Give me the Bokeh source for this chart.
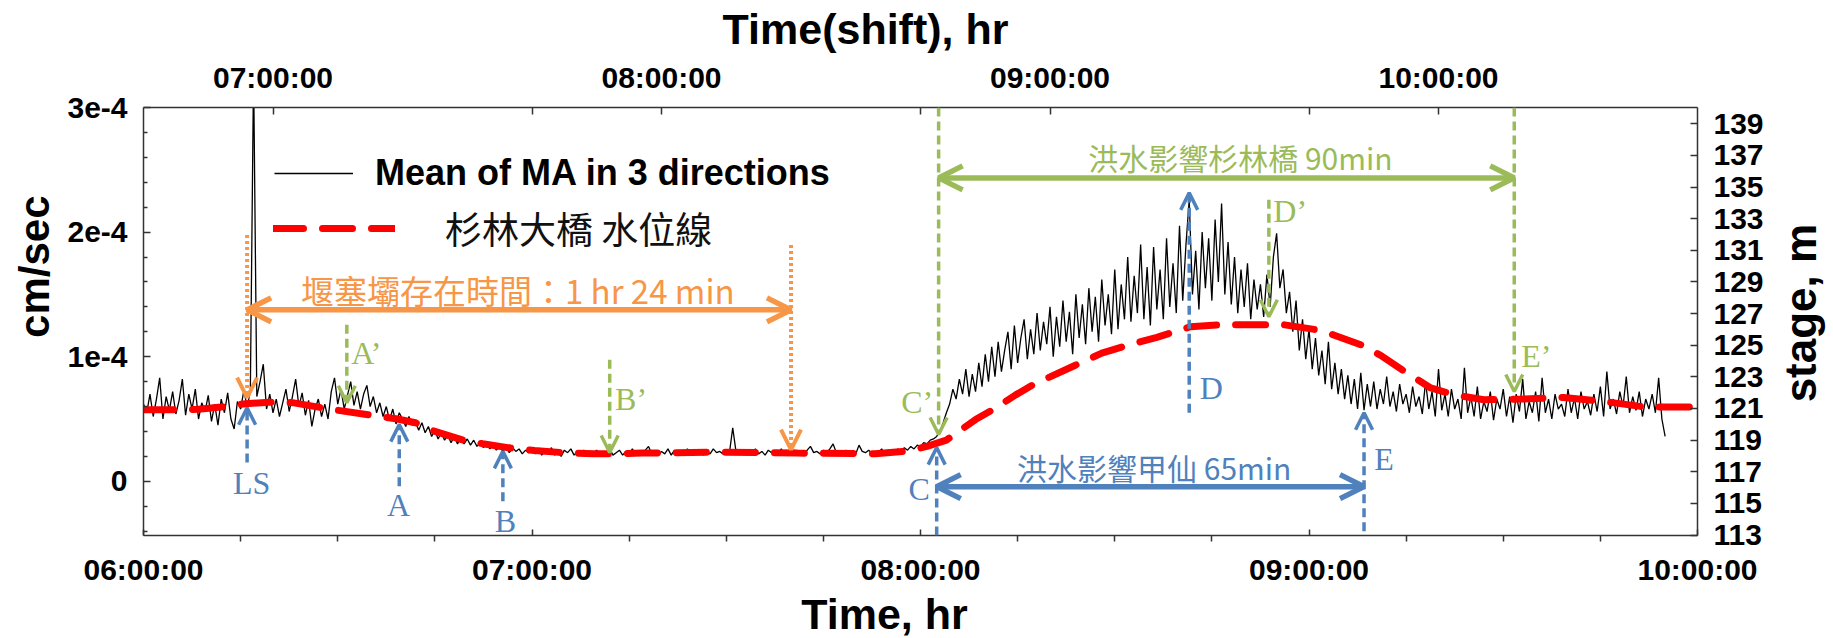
import math
import numpy as np
from bokeh.plotting import figure
from bokeh.layouts import row, column
from bokeh.models import (Range1d, LinearAxis, FixedTicker, Legend, LegendItem,
                          Arrow, OpenHead, ColumnDataSource, Label)
from bokeh.core.properties import value
from bokeh.embed import file_html
from bokeh.resources import INLINE

# ---------------- data ----------------
# time in minutes after 06:00:00 (bottom axis); samples every 0.5 min
ma_time_min = np.arange(0, 235.5, 0.5)
# mean of MA in 3 directions, in units of 1e-4 cm/sec
ma_e4 = [
    0.62, 0.55, 0.70, 0.52, 0.66, 0.83, 0.50, 0.68, 0.57, 0.72, 0.54, 0.65, 0.82, 0.53, 0.70, 0.58, 0.74, 0.50, 0.63, 0.56,
    0.69, 0.48, 0.62, 0.45, 0.66, 0.55, 0.71, 0.50, 0.42, 0.64, 0.58, 0.73, 0.60, 0.72, 3.30, 0.68, 0.80, 0.94, 0.58, 0.70,
    0.55, 0.66, 0.52, 0.63, 0.74, 0.56, 0.68, 0.82, 0.60, 0.71, 0.53, 0.65, 0.44, 0.58, 0.66, 0.52, 0.62, 0.50, 0.72, 0.83,
    0.62, 0.74, 0.58, 0.69, 0.80, 0.61, 0.72, 0.58, 0.70, 0.77, 0.60, 0.68, 0.55, 0.63, 0.52, 0.60, 0.49, 0.58, 0.46, 0.55,
    0.50, 0.44, 0.52, 0.45, 0.48, 0.41, 0.47, 0.39, 0.44, 0.36, 0.41, 0.34, 0.39, 0.33, 0.37, 0.31, 0.36, 0.30, 0.35, 0.30,
    0.34, 0.29, 0.33, 0.28, 0.31, 0.27, 0.30, 0.26, 0.29, 0.25, 0.28, 0.24, 0.27, 0.23, 0.27, 0.24, 0.26, 0.22, 0.25, 0.23,
    0.25, 0.22, 0.26, 0.21, 0.24, 0.22, 0.27, 0.21, 0.24, 0.20, 0.25, 0.23, 0.26, 0.21, 0.24, 0.22, 0.25, 0.20, 0.24, 0.23,
    0.25, 0.21, 0.24, 0.22, 0.26, 0.21, 0.23, 0.25, 0.21, 0.24, 0.22, 0.26, 0.21, 0.24, 0.22, 0.25, 0.28, 0.22, 0.24, 0.21,
    0.24, 0.22, 0.26, 0.21, 0.25, 0.23, 0.24, 0.21, 0.26, 0.22, 0.24, 0.23, 0.25, 0.21, 0.24, 0.22, 0.26, 0.23, 0.24, 0.22,
    0.25, 0.23, 0.43, 0.24, 0.22, 0.25, 0.21, 0.24, 0.23, 0.26, 0.22, 0.24, 0.21, 0.25, 0.23, 0.24, 0.22, 0.26, 0.21, 0.24,
    0.23, 0.25, 0.22, 0.24, 0.21, 0.25, 0.28, 0.23, 0.24, 0.22, 0.25, 0.23, 0.26, 0.30, 0.23, 0.24, 0.22, 0.25, 0.23, 0.24,
    0.22, 0.29, 0.24, 0.23, 0.25, 0.22, 0.24, 0.23, 0.26, 0.22, 0.25, 0.24, 0.23, 0.26, 0.24, 0.27, 0.25, 0.28, 0.26, 0.29,
    0.28, 0.31, 0.30, 0.33, 0.34, 0.36, 0.40, 0.47, 0.55, 0.62, 0.74, 0.66, 0.82, 0.70, 0.90, 0.68, 0.86, 0.72, 0.95, 0.76,
    1.02, 0.80, 1.08, 0.84, 1.12, 0.88, 1.05, 1.20, 0.90, 1.25, 0.95, 1.15, 1.30, 0.98, 1.22, 1.02, 1.35, 1.05, 1.28, 1.10,
    1.40, 1.00, 1.32, 1.08, 1.45, 1.12, 1.36, 1.02, 1.50, 1.15, 1.42, 1.10, 1.55, 1.20, 1.48, 1.12, 1.62, 1.25, 1.50, 1.18,
    1.70, 1.22, 1.58, 1.30, 1.80, 1.28, 1.65, 1.35, 1.90, 1.30, 1.72, 1.25, 1.88, 1.38, 1.70, 1.30, 1.95, 1.40, 1.75, 1.35,
    2.05, 1.45, 1.90, 2.26, 1.50, 1.85, 1.38, 2.00, 1.55, 1.95, 1.45, 2.10, 1.60, 2.23, 1.50, 1.92, 1.42, 1.80, 1.35, 1.70,
    1.40, 1.75, 1.30, 1.62, 1.38, 1.58, 1.32, 1.66, 1.40, 1.80, 1.99, 1.55, 1.70, 1.35, 1.52, 1.20, 1.45, 1.05, 1.30, 0.98,
    1.22, 0.90, 1.15, 0.85, 1.05, 0.78, 1.12, 0.74, 0.95, 0.70, 0.90, 0.66, 0.85, 0.62, 0.82, 0.58, 0.87, 0.57, 0.78, 0.60,
    0.80, 0.58, 0.74, 0.62, 0.84, 0.60, 0.72, 0.56, 0.78, 0.62, 0.70, 0.55, 0.76, 0.60, 0.68, 0.54, 0.80, 0.58, 0.72, 0.52,
    0.90, 0.57, 0.70, 0.52, 0.74, 0.58, 0.66, 0.50, 0.91, 0.55, 0.68, 0.52, 0.76, 0.50, 0.64, 0.56, 0.72, 0.49, 0.66, 0.58,
    0.74, 0.52, 0.68, 0.47, 0.70, 0.56, 0.82, 0.50, 0.64, 0.55, 0.72, 0.48, 0.83, 0.55, 0.66, 0.50, 0.70, 0.58, 0.62, 0.52,
    0.74, 0.55, 0.67, 0.50, 0.72, 0.58, 0.64, 0.53, 0.70, 0.56, 0.76, 0.52, 0.88, 0.58, 0.66, 0.54, 0.72, 0.60, 0.84, 0.55,
    0.68, 0.57, 0.72, 0.52, 0.66, 0.58, 0.70, 0.55, 0.83, 0.50, 0.36,
]

# stage of 杉林大橋 (m)
stage_time_min = [0, 4, 8.5, 12, 15.8, 19.4, 23, 26.8, 29.8, 34.7, 39, 42, 45, 49.4, 52.4,
                  56.7, 60.4, 65, 69.5, 73, 77, 89, 101, 113, 118, 121, 124, 128.5, 131.5,
                  134.7, 137.8, 140, 144, 148, 152, 156.5, 161.7, 166.7, 171, 176, 181.3,
                  183.8, 188.2, 191.3, 194.4, 198.8, 202.5, 207, 213, 219.3, 225.6, 231.8, 240]
stage_m = [120.92, 120.92, 120.95, 121.1, 121.3, 121.4, 121.37, 121.1, 120.9, 120.6, 120.35,
           120.1, 119.55, 119.0, 118.77, 118.5, 118.35, 118.2, 118.14, 118.14, 118.18, 118.24,
           118.18, 118.14, 118.3, 118.6, 119.0, 120.3, 121.0, 121.86, 122.6, 123.0, 123.75,
           124.5, 125.0, 125.5, 126.17, 126.3, 126.3, 126.3, 125.97, 125.65, 125.0, 124.3,
           123.44, 122.3, 121.86, 121.55, 121.6, 121.7, 121.44, 121.1, 121.1]

# axis ticks
x_ticks = [0, 60, 120, 180, 240]
x_tick_labels = ["06:00:00", "07:00:00", "08:00:00", "09:00:00", "10:00:00"]
x_minor_ticks = [15, 30, 45, 75, 90, 105, 135, 150, 165, 195, 210, 225]
shift_min = 40
top_ticks = [60, 120, 180, 240]
top_tick_labels = ["07:00:00", "08:00:00", "09:00:00", "10:00:00"]
top_minor_ticks = [100, 160, 220]
y_ticks_e4 = [0, 1, 2, 3]
y_tick_labels = ["0", "1e-4", "2e-4", "3e-4"]
y_minor_e4 = [-0.4, -0.2, 0.2, 0.4, 0.6, 0.8, 1.2, 1.4, 1.6, 1.8, 2.2, 2.4, 2.6, 2.8]
stage_ticks = [113, 115, 117, 119, 121, 123, 125, 127, 129, 131, 133, 135, 137, 139]

# event markers (minutes after 06:00, y in 1e-4 cm/sec)
blue_labels = ["LS", "A", "B", "C", "D", "E"]
blue_x = [16.0, 39.5, 55.5, 122.5, 161.5, 188.5]
blue_y_tail = [0.15, -0.04, -0.16, -0.435, 0.55, -0.40]
blue_y_tip = [0.59, 0.455, 0.24, 0.27, 2.315, 0.55]
blue_label_x = [16.7, 39.4, 55.9, 119.8, 164.9, 191.6]
blue_label_y = [-0.01, -0.187, -0.315, -0.06, 0.747, 0.182]

green_labels = ["A’", "B’", "C’", "D’", "E’"]
green_x = [31.4, 72.0, 122.8, 173.8, 211.7]
green_y_tail = [1.256, 0.976, 3.0, 2.259, 3.0]
green_y_tip = [0.631, 0.231, 0.375, 1.32, 0.72]
green_label_x = [34.4, 75.3, 119.5, 177.1, 215.1]
green_label_y = [1.028, 0.663, 0.64, 2.166, 1.004]

orange_x = [16.0, 100.0]
orange_y_tail = [1.977, 1.897]
orange_y_tip = [0.671, 0.254]

span_names = ["堰塞壩存在時間：1 hr 24 min", "洪水影響甲仙 65min", "洪水影響杉林橋 90min"]
span_start = [16.0, 122.5, 122.8]
span_end = [100.0, 188.5, 211.7]
span_y = [1.376, -0.043, 2.435]
span_text_x = [57.8, 156.1, 169.4]
span_text_y = [1.537, 0.118, 2.60]
span_text_size = ["33px", "30px", "30px"]

# axis titles
bottom_title = "Time, hr"
top_title = "Time(shift), hr"
left_title = "cm/sec"
right_title = "stage, m"

BLUE = "#4F81BD"
GREEN = "#9BBB59"
ORANGE = "#F79646"
AXC = "#333333"
SANS = "Liberation Sans"
CJK = "Noto Sans CJK TC"
SERIF = "Liberation Serif"

# layout sizes (px)
TOP_H, MID_H, BOT_H = 53, 535, 50
LEFT_W, MAIN_W, RIGHT_W = 60, 1712, 61

# ---------------- main figure ----------------
p = figure(width=MAIN_W, height=MID_H, output_backend="svg", toolbar_location=None,
           title=None,
           x_range=Range1d(0, 240), y_range=Range1d(-0.435, 3.0),
           min_border_left=83, min_border_right=75, min_border_top=54, min_border_bottom=52,
           background_fill_color="white", border_fill_color="white")
p.outline_line_color = None
p.grid.grid_line_color = None
p.extra_y_ranges = {"stage": Range1d(112.97, 140.03)}
p.extra_x_ranges = {"shift": Range1d(0 + shift_min, 240 + shift_min)}


def style_axis(ax):
    ax.axis_line_color = AXC
    ax.axis_line_width = 1.5
    ax.major_tick_line_color = AXC
    ax.major_tick_line_width = 1.5
    ax.minor_tick_line_color = AXC
    ax.minor_tick_line_width = 1.5
    ax.major_label_text_font = SANS
    ax.major_label_text_font_style = "bold"
    ax.major_label_text_font_size = "30px"
    ax.major_label_text_color = "black"


axb = p.below[0]
axb.ticker = FixedTicker(ticks=x_ticks, minor_ticks=x_minor_ticks)
axb.major_label_overrides = dict(zip(x_ticks, x_tick_labels))
style_axis(axb)
axb.major_tick_in = 6
axb.major_tick_out = 0
axb.minor_tick_in = 0
axb.minor_tick_out = 6
axb.major_label_standoff = 11

axl = p.left[0]
axl.ticker = FixedTicker(ticks=y_ticks_e4, minor_ticks=y_minor_e4)
axl.major_label_overrides = dict(zip(y_ticks_e4, y_tick_labels))
style_axis(axl)
axl.major_tick_in = 7
axl.major_tick_out = 0
axl.minor_tick_in = 4
axl.minor_tick_out = 0
axl.major_label_standoff = 16

axt = LinearAxis(x_range_name="shift",
                 ticker=FixedTicker(ticks=top_ticks, minor_ticks=top_minor_ticks))
axt.major_label_overrides = dict(zip(top_ticks, top_tick_labels))
style_axis(axt)
axt.major_tick_in = 7
axt.major_tick_out = 0
axt.minor_tick_in = 7
axt.minor_tick_out = 0
axt.major_label_standoff = 14
p.add_layout(axt, "above")

axr = LinearAxis(y_range_name="stage", ticker=FixedTicker(ticks=stage_ticks, minor_ticks=[]))
style_axis(axr)
axr.major_tick_in = 7
axr.major_tick_out = 0
axr.minor_tick_in = 0
axr.minor_tick_out = 0
axr.major_label_standoff = 16
p.add_layout(axr, "right")

# ---------------- series ----------------
r_ma = p.line(ma_time_min, ma_e4, line_color="black", line_width=1.3)
r_stage = p.line(stage_time_min, stage_m, y_range_name="stage", line_color="#FF0000",
                 line_width=7, line_dash="30 19", line_cap="round")

# ---------------- markers ----------------
def arrows(xs, y0, y1, color, width, dash, head):
    src = ColumnDataSource(dict(x=xs, y0=y0, y1=y1))
    p.add_layout(Arrow(x_start="x", y_start="y0", x_end="x", y_end="y1", source=src,
                       line_color=color, line_width=width, line_dash=dash,
                       end=OpenHead(size=head, line_color=color, line_width=width)))


arrows(orange_x, orange_y_tail, orange_y_tip, ORANGE, 4, "3 3", 20)
arrows(blue_x, blue_y_tail, blue_y_tip, BLUE, 3.5, "9 5", 17)
arrows(green_x, green_y_tail, green_y_tip, GREEN, 3.5, "9 5", 17)

for xs, xe, yy, col in zip(span_start, span_end, span_y, [ORANGE, BLUE, GREEN]):
    p.add_layout(Arrow(x_start=xs, y_start=yy, x_end=xe, y_end=yy,
                       line_color=col, line_width=5.5,
                       start=OpenHead(size=24, line_color=col, line_width=5.5),
                       end=OpenHead(size=24, line_color=col, line_width=5.5)))

p.text(x="x", y="y", text="t",
       source=ColumnDataSource(dict(x=blue_label_x, y=blue_label_y, t=blue_labels)),
       text_font=value(SERIF), text_font_size="32px", text_color=BLUE,
       text_align="center", text_baseline="middle")
p.text(x="x", y="y", text="t",
       source=ColumnDataSource(dict(x=green_label_x, y=green_label_y, t=green_labels)),
       text_font=value(SERIF), text_font_size="32px", text_color=GREEN,
       text_align="center", text_baseline="middle")
p.text(x="x", y="y", text="t", text_color="c", text_font_size="s",
       source=ColumnDataSource(dict(x=span_text_x, y=span_text_y, t=span_names,
                                    c=[ORANGE, BLUE, GREEN], s=span_text_size)),
       text_font=value(CJK),
       text_align="center", text_baseline="middle")

# ---------------- legends ----------------
leg1 = Legend(items=[LegendItem(label=value("Mean of MA in 3 directions"), renderers=[r_ma])],
              location=(131, 341), padding=0, margin=0, spacing=0,
              glyph_width=79, glyph_height=38, label_standoff=22, label_height=38,
              label_text_font=SANS, label_text_font_style="bold", label_text_font_size="36px",
              label_text_color="black",
              background_fill_alpha=0, border_line_alpha=0)
leg2 = Legend(items=[LegendItem(label=value("杉林大橋 水位線"), renderers=[r_stage])],
              location=(130, 280), padding=0, margin=0, spacing=0,
              glyph_width=122, glyph_height=46, label_standoff=50, label_height=46,
              label_text_font=CJK, label_text_font_size="37px", label_text_color="#111111",
              background_fill_alpha=0, border_line_alpha=0)
p.add_layout(leg1)
p.add_layout(leg2)


# ---------------- axis-title strips ----------------
def strip(w, h):
    f = figure(width=w, height=h, output_backend="svg", toolbar_location=None, title=None,
               x_range=Range1d(0, w), y_range=Range1d(0, h),
               x_axis_type=None, y_axis_type=None, min_border=0,
               background_fill_color="white", border_fill_color="white")
    f.outline_line_color = None
    return f


def title_label(f, txt, x, y, ang, size):
    f.add_layout(Label(x=x, y=y, text=txt, angle=ang, text_font=SANS,
                       text_font_style="bold", text_font_size=size, text_color="black",
                       text_align="center", text_baseline="middle"))


top_strip = strip(LEFT_W + MAIN_W + RIGHT_W, TOP_H)
title_label(top_strip, top_title, 865, 25, 0, "43px")
bottom_strip = strip(LEFT_W + MAIN_W + RIGHT_W, BOT_H)
title_label(bottom_strip, bottom_title, 884, 25, 0, "43px")
left_strip = strip(LEFT_W, MID_H)
title_label(left_strip, left_title, 34, 336, math.pi / 2, "42px")
right_strip = strip(RIGHT_W, MID_H)
title_label(right_strip, right_title, 28, 278, math.pi / 2, "44px")

page = column(top_strip, row(left_strip, p, right_strip), bottom_strip)

open("out.html", "w").write(file_html(page, INLINE))
